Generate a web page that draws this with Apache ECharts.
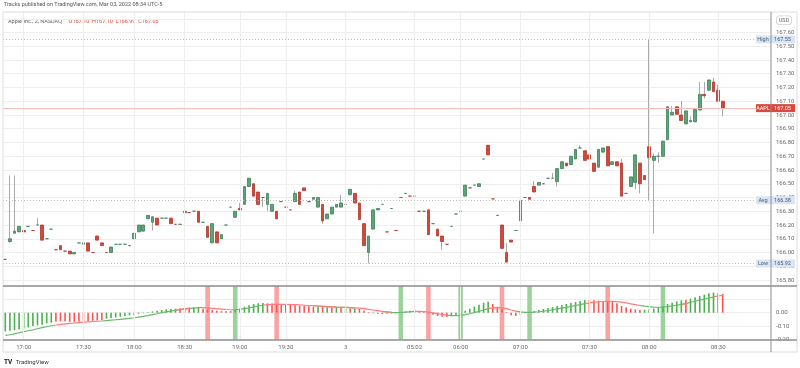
<!DOCTYPE html>
<html><head><meta charset="utf-8">
<script src="https://cdn.jsdelivr.net/npm/echarts@6/dist/echarts.min.js"></script>
<style>html,body{margin:0;padding:0;background:#fff}#c{width:800px;height:368px}</style>
</head><body><div id="c"></div>
<script>
// ---- categories (2-minute bars) ----
const times = [
'16:52','16:54','16:56','16:58','17:00','17:02','17:04','17:06','17:08','17:10','17:12','17:14','17:16','17:20','17:22','17:24','17:26',
'17:30','17:32','17:34','17:36','17:40','17:42','17:44','17:48','17:50','17:54','17:56',
'18:00','18:02','18:04','18:08','18:10','18:12','18:16','18:18','18:22','18:24','18:28',
'18:30','18:32','18:34','18:36','18:40','18:42','18:44','18:46','18:50','18:52','18:54','18:58',
'19:00','19:02','19:04','19:08','19:10','19:14','19:16','19:20','19:22','19:26',
'19:30','19:32','19:34','19:36','19:38','19:40','19:42','19:44','19:46','19:48','19:50','19:54','19:58',
'04:00','04:02','04:04','04:08','04:12','04:16','04:20','04:26','04:30','04:36','04:40','04:44','04:48','04:52','04:58',
'05:02','05:08','05:14','05:20','05:26','05:32','05:38','05:44','05:50','05:56',
'06:00','06:04','06:08','06:14','06:18','06:22','06:26','06:32','06:38','06:42','06:46','06:52','06:56',
'07:00','07:02','07:04','07:06','07:08','07:10','07:12','07:14','07:16','07:18','07:20','07:22','07:24','07:26','07:28',
'07:30','07:32','07:34','07:36','07:38','07:40','07:42','07:44','07:48','07:50','07:52','07:54','07:58',
'08:00','08:02','08:04','08:06','08:08','08:10','08:12','08:14','08:16','08:18','08:20','08:22','08:24','08:26','08:28',
'08:30','08:32'];
const emptySlots = ['08:34','08:36','08:38','08:40','08:42','08:44','08:46','08:48','08:50','08:52'];
const tickIdx = [4,17,28,39,51,61,74,89,99,112,127,140,155];
const tickLabels = ['17:00','17:30','18:00','18:30','19:00','19:30','3','05:02','06:00','07:00','07:30','08:00','08:30'];

// ---- AAPL OHLC ----
const open = [165.95,166.08,166.14,166.15,166.16,166.19,166.16,166.20,166.20,166.10,166.17,166.02,166.05,166.01,166.01,165.99,166.07,166.06,166.07,166.00,
166.12,166.07,166.00,166.00,166.06,166.06,166.06,166.05,166.10,166.15,166.155,166.245,166.22,166.25,166.25,166.25,166.25,166.205,166.205,166.29,
166.29,166.30,166.30,166.22,166.19,166.07,166.15,166.10,166.20,166.33,166.256,166.32,166.35,166.48,166.50,166.44,166.40,166.35,166.30,166.30,
166.37,166.33,166.31,166.37,166.44,166.47,166.37,166.387,166.33,166.35,166.245,166.28,166.33,166.33,166.35,166.42,166.43,166.36,166.21,166.00,
166.17,166.31,166.35,166.15,166.32,166.16,166.40,166.43,166.41,166.41,166.30,166.30,166.31,166.21,166.17,166.12,166.06,166.19,166.28,166.30,
166.41,166.47,166.49,166.48,166.68,166.78,166.39,166.27,166.20,166.00,166.09,166.16,166.23,166.40,166.40,166.48,166.49,166.50,166.54,166.54,
166.515,166.61,166.65,166.64,166.68,166.76,166.74,166.71,166.65,166.62,166.73,166.77,166.64,166.66,166.65,166.43,166.48,166.51,166.65,166.56,
166.77,166.67,166.70,166.70,166.82,167.00,167.06,167.00,166.935,166.95,166.95,167.036,167.15,167.18,167.24,167.18,167.10];
const close = [165.95,166.10,166.155,166.19,166.15,166.19,166.16,166.20,166.09,166.10,166.17,166.02,166.02,166.01,165.99,166.00,166.07,166.07,166.01,166.00,
166.09,166.05,166.00,166.04,166.06,166.06,166.06,166.05,166.14,166.20,166.20,166.27,166.26,166.20,166.25,166.25,166.21,166.205,166.205,166.30,
166.29,166.30,166.22,166.22,166.11,166.21,166.07,166.13,166.20,166.33,166.30,166.31,166.48,166.54,166.41,166.35,166.40,166.43,166.35,166.245,
166.37,166.33,166.31,166.43,166.35,166.45,166.37,166.40,166.40,166.23,166.28,166.33,166.35,166.36,166.35,166.46,166.36,166.24,166.05,166.12,
166.31,166.32,166.35,166.15,166.32,166.16,166.40,166.43,166.41,166.41,166.30,166.30,166.13,166.21,166.12,166.08,166.06,166.19,166.28,166.30,
166.49,166.47,166.49,166.50,166.68,166.71,166.39,166.27,166.03,165.93,166.076,166.16,166.38,166.40,166.387,166.44,166.51,166.50,166.54,166.54,
166.61,166.66,166.63,166.70,166.75,166.76,166.67,166.68,166.59,166.75,166.76,166.63,166.66,166.63,166.41,166.43,166.55,166.71,166.50,166.53,
166.69,166.70,166.70,166.81,167.06,167.02,167.005,166.96,167.03,166.96,167.04,167.15,167.14,167.255,167.17,167.10,167.05];
const low = [165.95,166.07,166.14,166.15,166.145,166.19,166.16,166.20,166.09,166.10,166.17,166.02,166.02,166.01,165.99,165.99,166.07,166.06,166.01,166.00,
166.09,166.05,166.00,166.00,166.06,166.06,166.06,166.05,166.10,166.15,166.155,166.245,166.16,166.20,166.25,166.25,166.21,166.205,166.205,166.29,
166.29,166.30,166.22,166.22,166.11,166.07,166.07,166.10,166.20,166.33,166.256,166.31,166.35,166.48,166.41,166.35,166.33,166.30,166.30,166.245,
166.37,166.33,166.31,166.37,166.35,166.45,166.37,166.387,166.33,166.21,166.245,166.28,166.33,166.33,166.35,166.42,166.36,166.24,166.05,165.92,
166.17,166.31,166.35,166.15,166.32,166.16,166.40,166.43,166.41,166.41,166.30,166.30,166.13,166.21,166.12,166.02,166.06,166.19,166.28,166.30,
166.41,166.47,166.49,166.48,166.68,166.71,166.39,166.27,166.03,165.93,166.076,166.16,166.23,166.40,166.387,166.44,166.49,166.50,166.54,166.54,
166.48,166.61,166.63,166.64,166.68,166.76,166.67,166.68,166.59,166.62,166.73,166.63,166.64,166.63,166.41,166.43,166.48,166.46,166.43,166.53,
166.38,166.14,166.65,166.70,166.82,167.00,167.005,166.96,166.935,166.95,166.95,167.036,167.12,167.18,167.17,167.10,166.99];
const high = [165.95,166.56,166.56,166.19,166.25,166.19,166.16,166.25,166.20,166.10,166.17,166.02,166.05,166.01,166.01,166.00,166.07,166.07,166.07,166.00,
166.12,166.07,166.00,166.04,166.06,166.06,166.06,166.05,166.14,166.20,166.20,166.27,166.26,166.25,166.25,166.25,166.25,166.205,166.205,166.30,
166.29,166.30,166.30,166.22,166.19,166.21,166.15,166.13,166.20,166.33,166.30,166.36,166.48,166.54,166.50,166.44,166.40,166.43,166.35,166.30,
166.37,166.33,166.31,166.45,166.44,166.47,166.37,166.40,166.40,166.35,166.28,166.33,166.35,166.42,166.35,166.46,166.43,166.36,166.21,166.12,
166.31,166.32,166.35,166.15,166.32,166.16,166.40,166.43,166.41,166.41,166.30,166.30,166.31,166.21,166.17,166.12,166.06,166.19,166.28,166.30,
166.49,166.47,166.49,166.50,166.68,166.78,166.39,166.27,166.20,166.07,166.09,166.16,166.38,166.40,166.40,166.52,166.51,166.50,166.54,166.58,
166.61,166.66,166.65,166.70,166.75,166.78,166.74,166.71,166.65,166.75,166.76,166.77,166.66,166.66,166.68,166.43,166.55,166.71,166.65,166.56,
167.55,166.72,166.73,166.81,167.06,167.065,167.06,167.10,167.03,166.99,167.04,167.24,167.24,167.255,167.27,167.22,167.10];

// price levels shown on the axis
const levelNames = ['High','Avg','Low'];
const levelValues = [167.55,166.38,165.92];
const lastPrice = 167.05;

// ---- indicator pane ----
const hist = [-0.14,-0.135,-0.13,-0.125,-0.12,-0.11,-0.10,-0.095,-0.09,-0.08,-0.075,
-0.065,-0.065,-0.066,-0.068,-0.068,-0.066,-0.064,-0.062,-0.06,-0.058,-0.055,
-0.045,-0.04,-0.035,-0.03,-0.025,-0.02,-0.015,
-0.008,-0.004,0.004,
0.01,0.015,0.02,0.025,0.028,0.03,
0.033,0.035,0.037,0.04,0.042,
0.03,0.025,0.02,0.015,0.012,0.01,0.012,
0.02,0.03,0.045,0.055,0.065,0.07,
0.072,0.07,0.068,0.066,
0.062,0.06,0.058,0.055,0.052,0.05,0.048,0.046,
0.044,0.042,0.04,0.038,0.036,0.035,0.034,0.032,0.03,0.028,
0.015,0.005,-0.005,-0.008,-0.01,-0.008,-0.006,-0.004,
0.005,0.01,0.015,0.018,
0.012,0.005,-0.005,-0.015,-0.025,-0.03,
-0.032,-0.028,-0.02,
-0.005,0.015,0.03,0.045,0.06,0.075,0.082,
0.065,0.045,0.025,0.005,-0.02,
-0.025,-0.015,-0.005,
0.005,0.012,0.02,0.028,0.035,0.042,0.05,0.058,0.065,0.072,0.08,0.088,0.095,
0.095,0.093,0.09,0.088,0.085,0.08,0.07,
0.05,0.04,0.03,0.025,0.02,
0.022,0.025,0.03,0.04,
0.05,0.065,0.075,0.085,0.092,
0.095,
0.105,0.115,0.125,0.135,0.145,0.15,
0.145,0.14];
const histDir = ('ggggggggggg'+'rrrrrrrrrrr'+'ggggggg'+'ggg'+'gggggg'+'rgrgg'+'rrrrrrr'+'gggggg'+'grrr'+'rrrrrrrr'+
 'grgrgrgrgr'+'rrrrrgrg'+'gggg'+'rrrrrr'+'rgg'+'ggggggg'+'rrrrr'+'rgg'+'ggggggggggggg'+'rrrrrrr'+'rrrrr'+'gggg'+'ggggg'+'r'+'gggggg'+'rr').split('');
const signal = [-0.17,-0.165,-0.158,-0.15,-0.142,-0.135,-0.128,-0.12,-0.112,-0.105,-0.098,
-0.092,-0.088,-0.084,-0.08,-0.077,-0.074,-0.071,-0.068,-0.066,-0.064,-0.062,
-0.059,-0.056,-0.053,-0.05,-0.046,-0.042,-0.038,
-0.033,-0.028,-0.022,
-0.015,-0.008,0.0,0.006,0.012,0.018,
0.024,0.028,0.032,0.035,0.038,
0.038,0.036,0.033,0.03,0.027,0.024,0.022,
0.022,0.025,0.03,0.036,0.043,0.05,
0.056,0.06,0.062,0.063,
0.063,0.062,0.061,0.06,0.058,0.056,0.054,0.052,
0.05,0.048,0.046,0.044,0.042,0.041,0.04,0.038,0.036,0.034,
0.03,0.025,0.02,0.015,0.01,0.006,0.003,0.001,
0.002,0.004,0.007,0.01,
0.01,0.008,0.004,-0.001,-0.007,-0.013,
-0.018,-0.021,-0.022,
-0.02,-0.015,-0.008,0.0,0.01,0.02,0.03,
0.036,0.038,0.036,0.03,0.02,
0.012,0.006,0.002,
0.002,0.004,0.007,0.011,0.016,0.022,0.028,0.034,0.04,0.047,0.054,0.061,0.068,
0.074,0.079,0.082,0.084,0.085,0.085,0.083,
0.079,0.073,0.066,0.06,0.054,
0.049,0.045,0.042,0.041,
0.042,0.046,0.051,0.056,0.062,
0.068,
0.078,0.086,0.094,0.102,0.11,0.118,
0.125,0.13];
const bandIdx = [44,50,59,86,92,99,108,114,131,143];
const bandDir = ['r','g','r','g','r','g','r','g','r','g'];
const histLast = 0.14, signalLast = 0.13;

// ---- styles ----
const FONT = 'Roboto, sans-serif';
const G_BODY = '#5fa37a', G_BORDER = '#3f8058', R_BODY = '#d4483b', R_BORDER = '#b3362b', WICK = '#a9a9a9';
const H_G = '#4caf50', H_R = '#ff5252', L_G = '#66bb6a', L_R = '#ff7a7a';
const BAND_G = '#9cd39c', BAND_R = '#fba3a3';
const AX = '#8e8e8e', GRIDC = '#eeeeee', LBL = '#6a6a6a';

const cats = times.concat(emptySlots);
const wickData = open.map((o, i) => [o, close[i], low[i], high[i]]);
const bodyData = open.map((o, i) => [o, close[i], Math.min(o, close[i]), Math.max(o, close[i])]);
const histData = hist.map((v, i) => ({ value: v, itemStyle: { color: histDir[i] === 'g' ? H_G : H_R } }));
const sigG = signal.map((v, i) => (histDir[i] === 'g' || histDir[i + 1] === 'g') ? v : null);
const sigR = signal.map((v, i) => (histDir[i] === 'r' || histDir[i + 1] === 'r') ? v : null);
const bandUp = cats.map((c, i) => { const k = bandIdx.indexOf(i); return k < 0 ? null : { value: 0.2, itemStyle: { color: bandDir[k] === 'g' ? BAND_G : BAND_R } }; });
const bandDn = cats.map((c, i) => { const k = bandIdx.indexOf(i); return k < 0 ? null : { value: -0.2, itemStyle: { color: bandDir[k] === 'g' ? BAND_G : BAND_R } }; });

const chart = echarts.init(document.getElementById('c'), null, { renderer: 'canvas' });
const levelLabel = (bg, fg) => ({
  show: true, position: 'end', distance: 0, offset: [-15, 0],
  formatter: p => '{n|' + p.name + '}{v|' + p.value.toFixed(2) + '}',
  rich: {
    n: { backgroundColor: bg, color: fg, fontSize: 5.5, fontFamily: FONT, width: 14, height: 8, lineHeight: 8, align: 'center' },
    v: { backgroundColor: bg, color: fg, fontSize: 5.5, fontFamily: FONT, width: 25, height: 8, lineHeight: 8, align: 'center' }
  }
});
const valueLabel = (bg, dy) => ({
  show: true, position: 'end', distance: 0, offset: [0, dy],
  formatter: p => '{v|' + p.value.toFixed(2) + '}',
  rich: { v: { backgroundColor: bg, color: '#fff', fontSize: 5.5, fontFamily: FONT, width: 24, height: 8, lineHeight: 8, align: 'center' } }
});

chart.setOption({
  animation: false,
  backgroundColor: '#fff',
  textStyle: { fontFamily: FONT },
  grid: [
    { left: 3, right: 29, top: 18.75, height: 261.25 },
    { left: 3, right: 29, top: 286, height: 53.4 },
    { left: 3, right: 29, top: 12, height: 328 }
  ],
  xAxis: [
    { type: 'category', gridIndex: 0, data: cats, show: false },
    { type: 'category', gridIndex: 1, data: cats, axisLine: { show: false }, axisTick: { show: false },
      axisLabel: { interval: (i) => tickIdx.indexOf(i) >= 0, formatter: (v, i) => tickLabels[tickIdx.indexOf(i)] || '',
        fontSize: 6, color: LBL, margin: 5, fontFamily: FONT } },
    { type: 'category', gridIndex: 1, data: cats, show: false },
    { type: 'category', gridIndex: 2, data: cats, show: false }
  ],
  yAxis: [
    { type: 'value', gridIndex: 0, position: 'right', min: 165.8, max: 167.7, interval: 0.1, scale: true,
      axisLine: { show: false }, axisTick: { show: false },
      splitLine: { lineStyle: { color: GRIDC, width: 1 } },
      axisLabel: { showMaxLabel: false, formatter: v => v.toFixed(2), fontSize: 6, color: LBL, margin: 5, fontFamily: FONT } },
    { type: 'value', gridIndex: 1, position: 'right', min: -0.2, max: 0.2, interval: 0.1,
      axisLine: { show: false }, axisTick: { show: false },
      splitLine: { lineStyle: { color: GRIDC, width: 1 } },
      axisLabel: { formatter: v => (v < 0.005 ? v.toFixed(2) : ''), fontSize: 6, color: LBL, margin: 5, fontFamily: FONT } },
    { type: 'value', gridIndex: 2, min: 0, max: 1, show: false }
  ],
  series: [
    { type: 'line', xAxisIndex: 3, yAxisIndex: 2, data: [], z: 0, silent: true,
      markLine: { silent: true, symbol: 'none', animation: false, label: { show: false },
        lineStyle: { color: GRIDC, width: 1, type: 'solid' },
        data: tickIdx.map(i => ({ xAxis: cats[i] })) } },
    { type: 'bar', xAxisIndex: 2, yAxisIndex: 1, data: bandUp, barWidth: '100%', barGap: '-100%', z: 1, silent: true },
    { type: 'bar', xAxisIndex: 2, yAxisIndex: 1, data: bandDn, barWidth: '100%', barGap: '-100%', z: 1, silent: true },
    { type: 'bar', xAxisIndex: 1, yAxisIndex: 1, data: histData, barWidth: 1.6, z: 3, silent: true,
      markLine: { silent: true, symbol: 'none', animation: false,
        data: [
          { yAxis: histLast, lineStyle: { opacity: 0 }, label: valueLabel(H_R, 0) },
          { yAxis: signalLast, lineStyle: { opacity: 0 }, label: valueLabel(H_G, 7) }
        ] } },
    { type: 'line', xAxisIndex: 1, yAxisIndex: 1, data: sigG, symbol: 'none', connectNulls: false, z: 4,
      lineStyle: { color: L_G, width: 1.2 } },
    { type: 'line', xAxisIndex: 1, yAxisIndex: 1, data: sigR, symbol: 'none', connectNulls: false, z: 4,
      lineStyle: { color: L_R, width: 1.2 } },
    { type: 'candlestick', xAxisIndex: 0, yAxisIndex: 0, data: wickData, barWidth: 1, z: 2, silent: true,
      itemStyle: { color: WICK, color0: WICK, borderColor: WICK, borderColor0: WICK, borderWidth: 1 },
      markLine: { silent: true, symbol: 'none', animation: false,
        lineStyle: { color: '#f4bdb8', type: 'solid', width: 1, opacity: 1 },
        data: [{ name: 'AAPL', yAxis: lastPrice, label: levelLabel('#d9483c', '#ffffff') }] } },
    { type: 'candlestick', xAxisIndex: 0, yAxisIndex: 0, data: bodyData, barWidth: 3.2, z: 3, silent: true,
      itemStyle: { color: G_BODY, color0: R_BODY, borderColor: G_BORDER, borderColor0: R_BORDER, borderWidth: 0.8 },
      markLine: { silent: true, symbol: 'none', animation: false,
        lineStyle: { color: '#bdbdbd', type: [1, 2], width: 1 },
        data: levelNames.map((n, k) => ({ name: n, yAxis: levelValues[k], label: levelLabel('#d7e5f5', '#4d5b6b') })) } }
  ],
  graphic: [
    { type: 'text', left: 4, top: 2, style: { text: 'Tracks published on TradingView.com, Mar 03, 2022 08:34 UTC-5', fill: '#555', fontSize: 5.5, fontFamily: FONT } },
    { type: 'rect', shape: { x: 3, y: 12, width: 794, height: 340 }, style: { fill: 'none', stroke: '#dcdcdc', lineWidth: 1 }, z: 100 },
    { type: 'line', shape: { x1: 771, y1: 12, x2: 771, y2: 352 }, style: { stroke: AX, lineWidth: 1 }, z: 100 },
    { type: 'line', shape: { x1: 3, y1: 286, x2: 797, y2: 286 }, style: { stroke: AX, lineWidth: 1.3 }, z: 100 },
    { type: 'line', shape: { x1: 3, y1: 340, x2: 797, y2: 340 }, style: { stroke: AX, lineWidth: 1.3 }, z: 100 },
    { type: 'rect', shape: { x: 772, y: 340.7, width: 24, height: 6 }, style: { fill: '#fff' }, z: 99 },
    { type: 'text', left: 8, top: 16, style: { rich: {
        a: { fill: '#666', fontSize: 5.5, fontFamily: FONT },
        b: { fill: '#d9483c', fontSize: 5.5, fontFamily: FONT }
      }, text: '{a|Apple Inc., 2, NASDAQ}  {b|O167.10  H167.10  L166.99  C167.05}' } },
    { type: 'text', left: 776, top: 15.5, style: { text: 'USD', fill: '#666', fontSize: 5.5, fontFamily: FONT,
        backgroundColor: '#fff', borderColor: '#cfcfcf', borderWidth: 0.8, borderRadius: 3, padding: [1, 2] } },
    { type: 'text', left: 4, top: 356, style: { rich: {
        t: { fill: '#131722', fontSize: 6.5, fontWeight: 'bold', fontFamily: FONT },
        w: { fill: '#333', fontSize: 6, fontFamily: FONT }
      }, text: '{t|TV} {w|TradingView}' } }
  ]
});
</script></body></html>
